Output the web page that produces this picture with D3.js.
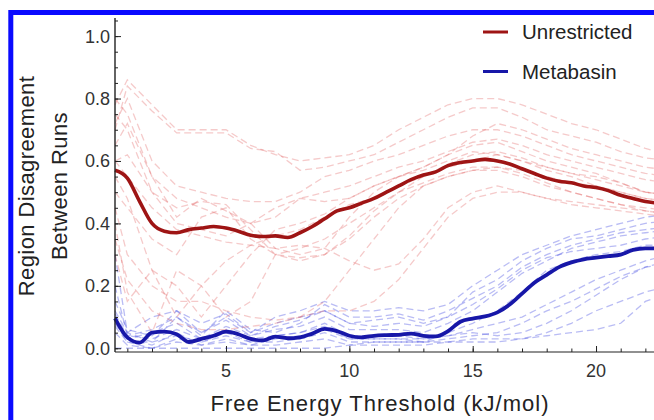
<!DOCTYPE html>
<html>
<head>
<meta charset="utf-8">
<script src="https://cdn.jsdelivr.net/npm/d3@7"></script>
<style>
  html, body { margin: 0; padding: 0; background: #fff; }
  svg { display: block; font-family: "Liberation Sans", Arial, Helvetica, sans-serif; }
</style>
</head>
<body>
<svg id="chart" width="654" height="420"></svg>
<script>
// ---------- DATA ----------
const seriesNames = ["Unrestricted", "Metabasin"];

// x positions (kJ/mol) of the averaged curves
const meanX = [0.5,1,1.5,2,2.5,3,3.5,4,4.5,5,5.5,6,6.5,7,7.5,8,8.5,9,9.5,10,10.5,11,11.5,12,12.5,13,13.5,14,14.5,15,15.5,16,16.5,17,17.5,18,18.5,19,19.5,20,20.5,21,21.5,22,22.5];
const unrestrictedMean = [0.57,0.545,0.47,0.40,0.375,0.37,0.38,0.385,0.39,0.385,0.375,0.362,0.358,0.36,0.355,0.37,0.39,0.415,0.44,0.45,0.465,0.48,0.50,0.52,0.54,0.555,0.565,0.585,0.595,0.60,0.605,0.60,0.59,0.575,0.56,0.545,0.535,0.53,0.52,0.515,0.505,0.49,0.48,0.47,0.465];
const metabasinMean = [0.096,0.035,0.018,0.05,0.053,0.045,0.02,0.03,0.04,0.053,0.045,0.03,0.025,0.037,0.032,0.035,0.047,0.062,0.055,0.04,0.035,0.04,0.042,0.043,0.047,0.04,0.038,0.055,0.085,0.095,0.102,0.115,0.14,0.175,0.21,0.235,0.26,0.275,0.285,0.29,0.295,0.30,0.315,0.32,0.32];

// x positions of the individual runs
const runX = [0.5,1,2,3,4,5,6,7,8,9,10,11,12,13,14,15,16,17,18,19,20,21,22,23];
const unrestrictedRuns = [
  [0.78,0.86,0.78,0.70,0.70,0.70,0.65,0.62,0.60,0.61,0.62,0.65,0.70,0.74,0.78,0.80,0.80,0.78,0.75,0.72,0.70,0.67,0.64,0.62],
  [0.70,0.84,0.76,0.69,0.69,0.69,0.64,0.63,0.57,0.58,0.60,0.62,0.66,0.70,0.74,0.77,0.77,0.74,0.70,0.68,0.66,0.63,0.61,0.60],
  [0.72,0.80,0.60,0.52,0.50,0.48,0.47,0.47,0.50,0.55,0.57,0.60,0.62,0.65,0.68,0.70,0.70,0.68,0.65,0.62,0.60,0.58,0.56,0.55],
  [0.80,0.75,0.55,0.42,0.48,0.44,0.40,0.32,0.30,0.32,0.42,0.50,0.55,0.58,0.62,0.65,0.66,0.63,0.60,0.58,0.56,0.53,0.50,0.49],
  [0.40,0.18,0.05,0.25,0.20,0.10,0.15,0.30,0.32,0.35,0.40,0.45,0.50,0.53,0.56,0.58,0.58,0.56,0.53,0.50,0.48,0.46,0.45,0.44],
  [0.55,0.48,0.25,0.10,0.20,0.28,0.33,0.36,0.38,0.42,0.46,0.48,0.52,0.55,0.58,0.60,0.62,0.60,0.57,0.55,0.52,0.50,0.48,0.47],
  [0.30,0.15,0.25,0.20,0.10,0.20,0.30,0.38,0.40,0.43,0.48,0.52,0.55,0.57,0.60,0.63,0.62,0.60,0.58,0.56,0.55,0.53,0.50,0.49],
  [0.45,0.30,0.20,0.15,0.15,0.12,0.10,0.09,0.10,0.15,0.25,0.35,0.45,0.52,0.55,0.57,0.57,0.55,0.52,0.50,0.48,0.46,0.44,0.43],
  [0.60,0.55,0.45,0.38,0.36,0.34,0.33,0.32,0.33,0.32,0.28,0.25,0.27,0.35,0.45,0.50,0.52,0.50,0.48,0.46,0.45,0.44,0.43,0.42],
  [0.35,0.22,0.12,0.08,0.06,0.06,0.07,0.08,0.10,0.12,0.12,0.15,0.22,0.32,0.42,0.48,0.50,0.50,0.48,0.47,0.46,0.45,0.44,0.43],
  [0.65,0.72,0.55,0.48,0.45,0.42,0.40,0.42,0.48,0.50,0.52,0.55,0.58,0.60,0.63,0.66,0.67,0.65,0.62,0.60,0.58,0.56,0.54,0.53],
  [0.50,0.45,0.35,0.30,0.42,0.45,0.35,0.30,0.29,0.30,0.35,0.42,0.48,0.52,0.55,0.57,0.58,0.57,0.55,0.53,0.52,0.50,0.48,0.47],
  [0.75,0.70,0.50,0.45,0.47,0.46,0.38,0.30,0.28,0.30,0.36,0.44,0.50,0.55,0.59,0.62,0.63,0.61,0.58,0.56,0.54,0.52,0.50,0.49],
  [0.60,0.62,0.50,0.40,0.38,0.36,0.40,0.45,0.48,0.47,0.48,0.52,0.55,0.58,0.62,0.68,0.72,0.70,0.67,0.64,0.62,0.60,0.58,0.57]
];
const metabasinRuns = [
  [0.30,0.05,0.10,0.12,0.05,0.10,0.05,0.08,0.10,0.12,0.08,0.07,0.08,0.07,0.10,0.18,0.22,0.28,0.32,0.35,0.36,0.38,0.40,0.41],
  [0.12,0.05,0.02,0.10,0.04,0.12,0.06,0.05,0.08,0.14,0.10,0.10,0.11,0.09,0.12,0.16,0.20,0.26,0.30,0.33,0.35,0.37,0.38,0.39],
  [0.08,0.02,0.00,0.03,0.02,0.04,0.02,0.02,0.03,0.05,0.02,0.02,0.02,0.02,0.05,0.08,0.12,0.18,0.25,0.28,0.30,0.31,0.33,0.33],
  [0.00,0.00,0.00,0.00,0.00,0.00,0.00,0.00,0.00,0.00,0.01,0.02,0.02,0.02,0.02,0.02,0.02,0.03,0.04,0.05,0.06,0.08,0.15,0.18],
  [0.10,0.03,0.05,0.08,0.03,0.06,0.03,0.04,0.05,0.08,0.04,0.04,0.04,0.03,0.04,0.05,0.04,0.05,0.08,0.12,0.17,0.22,0.26,0.28],
  [0.15,0.06,0.04,0.12,0.08,0.11,0.05,0.10,0.12,0.15,0.12,0.12,0.13,0.12,0.14,0.20,0.25,0.30,0.33,0.36,0.38,0.40,0.42,0.43],
  [0.09,0.03,0.01,0.05,0.01,0.03,0.01,0.03,0.04,0.06,0.03,0.03,0.03,0.03,0.04,0.06,0.08,0.10,0.14,0.18,0.22,0.25,0.28,0.30],
  [0.20,0.04,0.03,0.06,0.03,0.07,0.04,0.06,0.07,0.10,0.06,0.06,0.06,0.05,0.08,0.12,0.18,0.24,0.28,0.32,0.34,0.36,0.37,0.38],
  [0.07,0.02,0.02,0.04,0.02,0.05,0.02,0.04,0.05,0.07,0.03,0.03,0.03,0.02,0.03,0.04,0.05,0.08,0.12,0.15,0.19,0.23,0.26,0.27],
  [0.05,0.01,0.00,0.02,0.01,0.02,0.01,0.01,0.02,0.03,0.01,0.01,0.01,0.01,0.02,0.03,0.03,0.03,0.05,0.08,0.12,0.15,0.18,0.20],
  [0.11,0.04,0.06,0.10,0.05,0.09,0.04,0.07,0.09,0.12,0.08,0.09,0.10,0.08,0.10,0.14,0.19,0.25,0.29,0.31,0.32,0.33,0.35,0.36]
];

const xTickValues = [5, 10, 15, 20];
const yTickValues = [0, 0.2, 0.4, 0.6, 0.8, 1.0];
const xTitle = "Free Energy Threshold (kJ/mol)";
const yTitleLines = ["Region Disagreement", "Between Runs"];

// ---------- CHART ----------
const svg = d3.select("#chart");
const W = 654, H = 420;

const x = d3.scaleLinear().domain([0.5, 22.35]).range([115, 654]);
const y = d3.scaleLinear().domain([-0.012, 1.058]).range([352, 18]);

svg.append("rect").attr("width", W).attr("height", H).attr("fill", "#fff");

const clip = svg.append("defs").append("clipPath").attr("id", "plotclip")
  .append("rect").attr("x", 113).attr("y", 14).attr("width", W).attr("height", 340);

const plot = svg.append("g").attr("clip-path", "url(#plotclip)");

const runLine = d3.line().x((d, i) => x(runX[i])).y(d => y(d));
const meanLine = d3.line().x((d, i) => x(meanX[i])).y(d => y(d)).curve(d3.curveMonotoneX);

plot.selectAll("path.brun").data(metabasinRuns).join("path")
  .attr("class", "brun").attr("d", runLine)
  .attr("fill", "none").attr("stroke", "rgba(70,80,225,0.38)")
  .attr("stroke-width", 1.3).attr("stroke-dasharray", "7,4");

plot.selectAll("path.rrun").data(unrestrictedRuns).join("path")
  .attr("class", "rrun").attr("d", runLine)
  .attr("fill", "none").attr("stroke", "rgba(225,90,90,0.32)")
  .attr("stroke-width", 1.3).attr("stroke-dasharray", "7,4");

plot.append("path").datum(unrestrictedMean).attr("d", meanLine)
  .attr("fill", "none").attr("stroke", "#9e1414").attr("stroke-width", 3.6)
  .attr("stroke-linejoin", "round");

plot.append("path").datum(metabasinMean).attr("d", meanLine)
  .attr("fill", "none").attr("stroke", "#1717a8").attr("stroke-width", 3.8)
  .attr("stroke-linejoin", "round");

// ---------- AXES ----------
const axisColor = "#222";
const textColor = "#333";

// x axis
const xMinor = d3.range(1, 23);
const xAxisG = svg.append("g").attr("transform", "translate(0,352)");
xAxisG.append("g").call(d3.axisTop(x).tickValues(xMinor).tickSize(3.5).tickFormat(""))
  .call(g => g.select(".domain").remove());
xAxisG.append("g").call(d3.axisTop(x).tickValues(xTickValues).tickSize(6).tickFormat(""))
  .call(g => g.select(".domain").remove());
xAxisG.selectAll("line").attr("stroke", axisColor);
xAxisG.append("line").attr("x1", 115).attr("x2", W).attr("y1", 0).attr("y2", 0)
  .attr("stroke", axisColor).attr("stroke-width", 1.2);
xAxisG.selectAll("text.xl").data(xTickValues).join("text")
  .attr("class", "xl").attr("x", d => x(d)).attr("y", 25)
  .attr("text-anchor", "middle").attr("font-size", 18).attr("fill", textColor)
  .text(d => d);

// y axis
const yMinor = d3.range(0, 1.051, 0.05);
const yAxisG = svg.append("g").attr("transform", "translate(115,0)");
yAxisG.append("g").call(d3.axisRight(y).tickValues(yMinor).tickSize(3).tickFormat(""))
  .call(g => g.select(".domain").remove());
yAxisG.append("g").call(d3.axisRight(y).tickValues(yTickValues).tickSize(6).tickFormat(""))
  .call(g => g.select(".domain").remove());
yAxisG.selectAll("line").attr("stroke", axisColor);
yAxisG.append("line").attr("x1", 0).attr("x2", 0).attr("y1", 18).attr("y2", 352)
  .attr("stroke", axisColor).attr("stroke-width", 1.4);
yAxisG.selectAll("text.yl").data(yTickValues).join("text")
  .attr("class", "yl").attr("x", -5).attr("y", d => y(d)).attr("dy", "0.36em")
  .attr("text-anchor", "end").attr("font-size", 18).attr("fill", textColor)
  .text(d => d3.format(".1f")(d));

// titles
svg.append("text").attr("x", 380).attr("y", 411).attr("text-anchor", "middle")
  .attr("font-size", 22).attr("letter-spacing", "1px").attr("fill", "#222").text(xTitle);

const yt = svg.append("text").attr("transform", "translate(0,186) rotate(-90)")
  .attr("text-anchor", "middle").attr("font-size", 22).attr("fill", "#222");
yTitleLines.forEach((t, i) => {
  yt.append("tspan").attr("x", 0).attr("y", i === 0 ? 34 : 67).attr("letter-spacing", "0.4px").text(t);
});

// legend
const legendColors = ["#9e1414", "#1717a8"];
const leg = svg.append("g");
seriesNames.forEach((name, i) => {
  const ly = 32 + i * 39.5;
  leg.append("line").attr("x1", 483).attr("x2", 508).attr("y1", ly).attr("y2", ly)
    .attr("stroke", legendColors[i]).attr("stroke-width", 3);
  leg.append("text").attr("x", 522).attr("y", ly).attr("dy", "0.36em")
    .attr("font-size", 20.5).attr("fill", "#222").text(name);
});

// blue frame
svg.append("rect").attr("x", 10.8).attr("y", 12.5).attr("width", 700).attr("height", 450)
  .attr("fill", "none").attr("stroke", "#0a0aff").attr("stroke-width", 5);
</script>
</body>
</html>
